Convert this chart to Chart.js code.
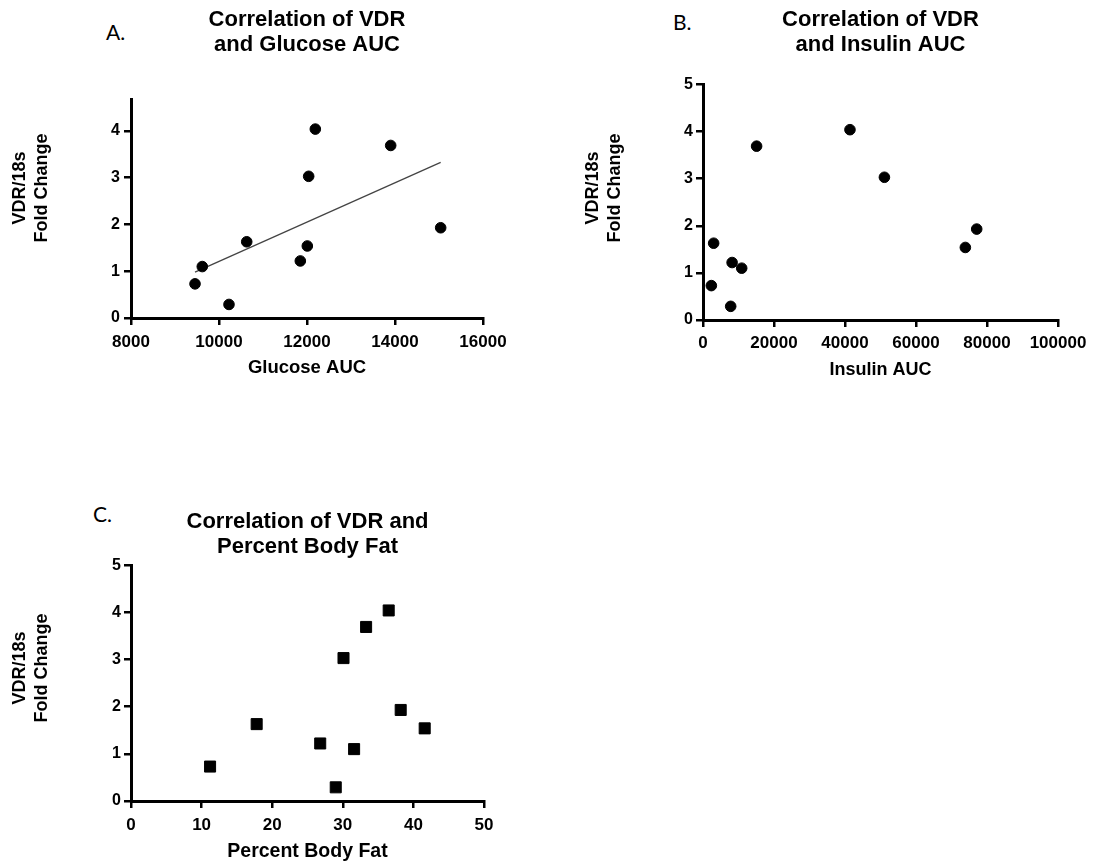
<!DOCTYPE html>
<html>
<head>
<meta charset="utf-8">
<title>Correlation of VDR</title>
<script src="https://cdn.jsdelivr.net/npm/chart.js@4.4.1/dist/chart.umd.min.js"></script>
<style>
  body { margin: 0; background: #fff; width: 1093px; height: 865px; position: relative; overflow: hidden; }
  canvas { position: absolute; }
  .letra { position: absolute; font-family: Lato, "Liberation Sans", sans-serif; font-size: 21px; line-height: 1; color: #000; }
</style>
</head>
<body>
<div class="letra" style="left:106px;top:21px">A.</div>
<div class="letra" style="left:673px;top:11px">B.</div>
<div class="letra" style="left:93px;top:503px">C.</div>

<canvas id="graficoGlicose" width="520" height="390" style="left:0;top:0"></canvas>
<canvas id="graficoInsulina" width="523" height="390" style="left:570px;top:0"></canvas>
<canvas id="graficoGordura" width="520" height="365" style="left:0;top:500px"></canvas>

<script>
// VDR/18s fold change, one value per animal (same order in all three graphs)
const vdrFold = [0.73, 1.10, 0.29, 1.63, 1.22, 1.54, 3.03, 4.04, 3.69, 1.93];
const glucoseAUC = [9455, 9620, 10227, 10630, 11848, 12007, 12038, 12189, 13902, 15038];
const insulinAUC = [2350, 10900, 7800, 3000, 8200, 73900, 51100, 41400, 15100, 77100];
const bodyFat = [11.2, 31.6, 29.0, 17.8, 26.8, 41.6, 30.1, 36.5, 33.3, 38.2];

// linear fit drawn on graph A (ends)
const fitGlucose = [9455, 15038];
const fitVdr = [0.98, 3.33];

// tick labels
const glucoseTicks = [8000, 10000, 12000, 14000, 16000];
const insulinTicks = [0, 20000, 40000, 60000, 80000, 100000];
const fatTicks = [0, 10, 20, 30, 40, 50];
const vdrTicksA = [0, 1, 2, 3, 4];
const vdrTicks = [0, 1, 2, 3, 4, 5];

const yTitulo = ["VDR/18s", "Fold Change"];
const fonte = "'Liberation Sans', Arial, sans-serif";

// the y title sits a bit above the middle of the axis in the original, so draw it here
const tituloY = {
  id: "tituloY",
  afterDraw(chart, args, opts) {
    const ctx = chart.ctx;
    ctx.save();
    ctx.translate(opts.x, opts.y);
    ctx.rotate(-Math.PI / 2);
    ctx.fillStyle = "#000";
    ctx.font = "bold 18px " + fonte;
    ctx.textAlign = "center";
    ctx.textBaseline = "middle";
    ctx.fillText(yTitulo[0], 0, -11);
    ctx.fillText(yTitulo[1], 0, 11);
    ctx.restore();
  }
};

function pontos(xs, ys) {
  return xs.map((x, i) => ({ x: x, y: ys[i] }));
}

function grafico(id, c) {
  return new Chart(document.getElementById(id), {
    type: "scatter",
    data: { datasets: c.datasets },
    plugins: [tituloY],
    options: {
      responsive: false,
      animation: false,
      layout: { padding: { right: c.direita } },
      plugins: {
        legend: { display: false },
        tooltip: { enabled: false },
        tituloY: { x: c.yTituloX, y: c.yTituloY },
        title: {
          display: true,
          fullSize: false,
          text: c.titulo,
          color: "#000",
          font: { family: fonte, weight: "bold", size: 22, lineHeight: 1.14 },
          padding: { top: c.tituloTopo, bottom: c.tituloBaixo }
        }
      },
      scales: {
        x: {
          type: "linear",
          position: "bottom",
          min: c.xMin,
          max: c.xMax,
          afterBuildTicks: s => { s.ticks = c.xTicks.map(v => ({ value: v })); },
          afterFit: s => { s.height = c.alturaX; },
          ticks: {
            callback: v => String(v),
            color: "#000",
            autoSkip: false,
            maxRotation: 0,
            padding: c.xPad,
            font: { family: fonte, weight: "bold", size: 17 }
          },
          grid: { drawOnChartArea: false, color: "#000", lineWidth: 2.5, tickLength: 7 },
          border: { color: "#000", width: 3 },
          title: {
            display: true,
            text: c.xTitulo,
            color: "#000",
            font: { family: fonte, weight: "bold", size: c.xTituloTam, lineHeight: 1.2 },
            padding: { top: 0, bottom: c.xTituloPad }
          }
        },
        y: {
          type: "linear",
          min: 0,
          max: c.yMax,
          afterBuildTicks: s => { s.ticks = c.yTicks.map(v => ({ value: v })); },
          afterFit: s => { s.width = c.larguraY; },
          ticks: {
            color: "#000",
            padding: c.yPad,
            font: { family: fonte, weight: "bold", size: 16 }
          },
          grid: { drawOnChartArea: false, color: "#000", lineWidth: 2.5, tickLength: 7 },
          border: { color: "#000", width: 3 }
        }
      }
    }
  });
}

grafico("graficoGlicose", {
  titulo: ["Correlation of VDR", "and Glucose AUC"],
  tituloTopo: 7.5, tituloBaixo: 41.5, direita: 37,
  xMin: 8000, xMax: 16000, xTicks: glucoseTicks, xTitulo: "Glucose AUC", xTituloTam: 18.5,
  alturaX: 72, xPad: 7, xTituloPad: 11,
  yMax: 4.68, yTicks: vdrTicksA, larguraY: 131, yPad: 4, yTituloX: 31, yTituloY: 188,
  datasets: [
    { data: pontos(glucoseAUC, vdrFold), pointStyle: "circle", pointRadius: 5.3,
      backgroundColor: "#000", borderColor: "#000", borderWidth: 1 },
    { data: pontos(fitGlucose, fitVdr), showLine: true, pointRadius: 0,
      borderColor: "#444", borderWidth: 1.3 }
  ]
});

grafico("graficoInsulina", {
  titulo: ["Correlation of VDR", "and Insulin AUC"],
  tituloTopo: 7.5, tituloBaixo: 26.8, direita: 35,
  xMin: 0, xMax: 100000, xTicks: insulinTicks, xTitulo: "Insulin AUC", xTituloTam: 18,
  alturaX: 70, xPad: 6, xTituloPad: 9,
  yMax: 5, yTicks: vdrTicks, larguraY: 133, yPad: 3, yTituloX: 34, yTituloY: 188,
  datasets: [
    { data: pontos(insulinAUC, vdrFold), pointStyle: "circle", pointRadius: 5.3,
      backgroundColor: "#000", borderColor: "#000", borderWidth: 1 }
  ]
});

grafico("graficoGordura", {
  titulo: ["Correlation of VDR and", "Percent Body Fat"],
  tituloTopo: 9.2, tituloBaixo: 5.8, direita: 36,
  xMin: 0, xMax: 50, xTicks: fatTicks, xTitulo: "Percent Body Fat", xTituloTam: 19.5,
  alturaX: 64, xPad: 7, xTituloPad: 2,
  yMax: 5, yTicks: vdrTicks, larguraY: 131, yPad: 3, yTituloX: 31, yTituloY: 168,
  datasets: [
    { data: pontos(bodyFat, vdrFold), pointStyle: "rect", pointRadius: 7.8,
      backgroundColor: "#000", borderColor: "#000", borderWidth: 1 }
  ]
});
</script>
</body>
</html>
